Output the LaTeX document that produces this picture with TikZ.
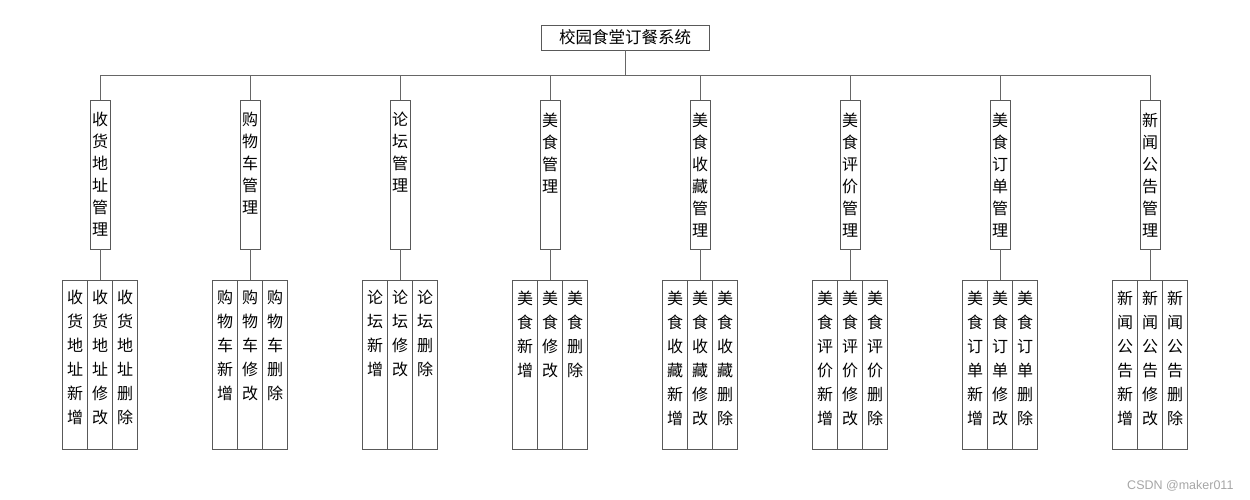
\documentclass[tikz,border=0pt]{standalone}
\usepackage{fontspec}
\newfontfamily\cjk{Noto Sans CJK SC}
\setsansfont{Liberation Sans}
\XeTeXlinebreaklocale "zh"
\XeTeXlinebreakskip=0pt plus 1pt
% one character per line, text at the top of the box
\newcommand\vcol[5]{\parbox[c][#2][t]{#1}{\fontsize{16}{#3}\selectfont\vspace*{#4}\centering #5\par}}
\begin{document}
\begin{tikzpicture}[x=1pt,y=-1pt,
    box/.style={draw=black!65, inner sep=0pt, outer sep=0pt, font=\cjk},
    link/.style={draw=black!60}
  ]
  \useasboundingbox (0,0) rectangle (1250,500);
  \node[box, minimum width=168pt, minimum height=25pt, font=\cjk\fontsize{16.5}{20}\selectfont] (root) at (625,37.5) {校园食堂订餐系统};
  \foreach \p [count=\i] in {收货地址,购物车,论坛,美食,美食收藏,美食评价,美食订单,新闻公告}{
    \node[box, anchor=north] (m\i) at (150*\i-50,100) {\vcol{20pt}{149pt}{22pt}{12.5pt}{\p 管理}};
    \node[box, anchor=north] (b\i) at (150*\i-50,280) {\vcol{25pt}{169pt}{24pt}{10.5pt}{\p 修改}};
    \node[box, anchor=north east] (a\i) at (b\i.north west) {\vcol{25pt}{169pt}{24pt}{10.5pt}{\p 新增}};
    \node[box, anchor=north west] (c\i) at (b\i.north east) {\vcol{25pt}{169pt}{24pt}{10.5pt}{\p 删除}};
    \draw[link] (m\i.north) -- ++(0,-25) -| (root.south);
    \draw[link] (m\i.south) -- (b\i.north);
  }
  \node[anchor=east, text=black!35, font=\sffamily\fontsize{12.5}{14}\selectfont] (mark) at (1237,486) {CSDN @maker011};
\end{tikzpicture}
\end{document}
